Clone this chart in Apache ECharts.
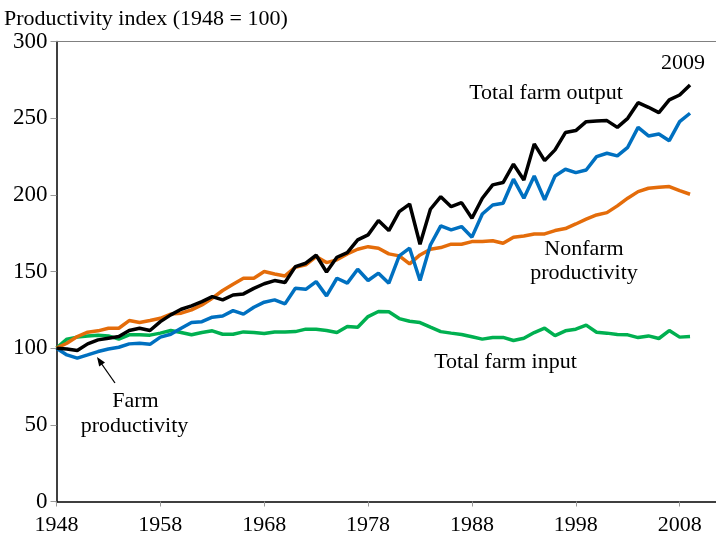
<!DOCTYPE html>
<html>
<head>
<meta charset="utf-8">
<script src="https://cdn.jsdelivr.net/npm/echarts@6/dist/echarts.min.js"></script>
<style>
html, body { margin: 0; padding: 0; background: #fff; }
#chart { width: 716px; height: 537px; }
</style>
</head>
<body>
<div id="chart"></div>
<script>
var years = [1948, 1949, 1950, 1951, 1952, 1953, 1954, 1955, 1956, 1957,
	1958, 1959, 1960, 1961, 1962, 1963, 1964, 1965, 1966, 1967,
	1968, 1969, 1970, 1971, 1972, 1973, 1974, 1975, 1976, 1977,
	1978, 1979, 1980, 1981, 1982, 1983, 1984, 1985, 1986, 1987,
	1988, 1989, 1990, 1991, 1992, 1993, 1994, 1995, 1996, 1997,
	1998, 1999, 2000, 2001, 2002, 2003, 2004, 2005, 2006, 2007,
	2008, 2009];
var farmOutput = [100, 99.5, 98.5, 102.8, 105.4, 106.5, 107.6, 111.5, 113, 111.5,
	117.3, 121.7, 125.4, 127.6, 130.4, 133.6, 131.5, 134.7, 135.4, 139,
	142, 144.1, 142.8, 153.2, 155.4, 160.6, 149.7, 159.3, 162.3, 170.6,
	173.9, 183.2, 176.7, 189, 194, 167.8, 190.6, 198.8, 192.3, 194.9,
	184.7, 197.8, 206.5, 208, 220, 209.7, 233.2, 222.3, 229.3, 240.6,
	241.9, 247.7, 248.2, 248.4, 244, 249.9, 260.1, 257.1, 253.6, 261.9,
	265.1, 271.6];
var farmProductivity = [100, 95.6, 93.5, 95.6, 97.8, 99.5, 100.6, 102.8, 103.2, 102.5,
	107.2, 109.1, 113, 116.7, 117.3, 120.2, 121, 124.5, 122.2, 126.7,
	130, 131.5, 128.9, 139.1, 138.4, 143.4, 134.1, 145.6, 142.4, 151.5,
	144.1, 148.9, 142.4, 160.2, 165.2, 144.1, 167.3, 179.7, 177.1, 179.3,
	172.4, 187.5, 193.4, 194.5, 210.2, 197.8, 212.3, 196.7, 212.3, 216.7,
	214.5, 216.2, 224.9, 227.1, 225.4, 231, 244, 238.4, 239.7, 235.3,
	247.7, 253.2];
var nonfarmProductivity = [100, 103.2, 107.6, 110.4, 111.3, 113, 113, 118, 116.7, 118,
	119.5, 122.2, 122.8, 125, 128.2, 132.6, 137.6, 141.7, 145.6, 145.6,
	150, 148.4, 147.1, 152.8, 154.3, 159.7, 155.8, 157.6, 161.5, 164.5,
	166.2, 165.2, 161.5, 160.2, 155, 160.8, 164.5, 165.6, 167.8, 167.8,
	169.5, 169.5, 170.1, 168.4, 172.4, 173.2, 174.5, 174.5, 176.7, 178,
	181, 184.1, 186.9, 188.4, 192.8, 197.8, 202.1, 204.3, 205, 205.4,
	202.7, 200.4];
var farmInput = [100, 105.9, 107.2, 108, 108.5, 108, 105.9, 108.7, 108.7, 108.5,
	109.8, 111.5, 110.2, 108.7, 110.2, 111.3, 109.1, 109.1, 110.6, 110.2,
	109.5, 110.6, 110.6, 110.8, 112.4, 112.4, 111.5, 110.2, 114.1, 113.6,
	120.6, 123.9, 123.7, 119.3, 117.6, 116.7, 113.7, 110.8, 109.8, 108.9,
	107.4, 105.9, 106.9, 107, 105, 106.5, 110.2, 113, 108.2, 111.3,
	112.4, 115, 110.4, 109.8, 108.9, 108.7, 106.9, 108, 106.3, 111.5,
	107.2, 107.6];
var xTicks = [1948, 1958, 1968, 1978, 1988, 1998, 2008];

function pairs(vals) {
	var out = [];
	for (var i = 0; i < years.length; i++) out.push([years[i], vals[i]]);
	return out;
}

var serif = '"Liberation Serif", "DejaVu Serif", serif';
var font = '22px ' + serif;

function line(name, vals, color) {
	return {
		name : name,
		type : 'line',
		data : pairs(vals),
		showSymbol : false,
		symbol : 'none',
		animation : false,
		lineStyle : { color : color, width : 3.5 }
	};
}

function label(text, x, y) {
	return { type : 'text', x : x, y : y, style : { text : text, font : font, fill : '#000', align : 'center', verticalAlign : 'middle' } };
}

var myChart = echarts.init(document.getElementById('chart'));
var option = {
	backgroundColor : '#fff',
	animation : false,
	grid : { left : 56.5, right : 0, top : 41.5, bottom : 35.5 },
	xAxis : [ {
		type : 'value',
		min : 1948,
		max : 2011.5,
		axisLine : { lineStyle : { color : '#000', width : 1.5 } },
		axisTick : { customValues : xTicks, length : 5, lineStyle : { color : '#999' } },
		axisLabel : {
			customValues : xTicks, margin : 13, fontFamily : serif, fontSize : 22, color : '#000',
			formatter : function(v) { return String(v); }
		},
		splitLine : { show : false }
	}, {
		type : 'value',
		position : 'top',
		min : 1948,
		max : 2011.5,
		axisLine : { show : true, lineStyle : { color : '#808080', width : 1.2 } },
		axisTick : { show : false },
		axisLabel : { show : false },
		splitLine : { show : false }
	} ],
	yAxis : {
		type : 'value',
		min : 0,
		max : 300,
		interval : 50,
		axisLine : { show : true, lineStyle : { color : '#000', width : 1.5 } },
		axisTick : { show : true, length : 6, lineStyle : { color : '#999' } },
		axisLabel : { margin : 9, fontFamily : serif, fontSize : 23, color : '#000' },
		splitLine : { show : false }
	},
	series : [
		line('Total farm input', farmInput, '#00b050'),
		line('Nonfarm productivity', nonfarmProductivity, '#e46c0a'),
		line('Farm productivity', farmProductivity, '#0070c0'),
		line('Total farm output', farmOutput, '#000000')
	],
	graphic : [
		{ type : 'text', left : 4, top : 8, style : { text : 'Productivity index (1948 = 100)', font : font, fill : '#000' } },
		label('2009', 683, 63),
		label('Total farm output', 546, 93),
		label('Nonfarm', 584, 249),
		label('productivity', 584, 273),
		label('Total farm input', 505.5, 362),
		label('Farm', 135.5, 401),
		label('productivity', 134.5, 426),
		{ type : 'line', shape : { x1 : 115, y1 : 383, x2 : 101, y2 : 363 }, style : { stroke : '#000', lineWidth : 1.3 } },
		{ type : 'polygon', shape : { points : [[97, 357], [105, 362.4], [99.2, 366.4]] }, style : { fill : '#000' } }
	]
};
myChart.setOption(option);
</script>
</body>
</html>
